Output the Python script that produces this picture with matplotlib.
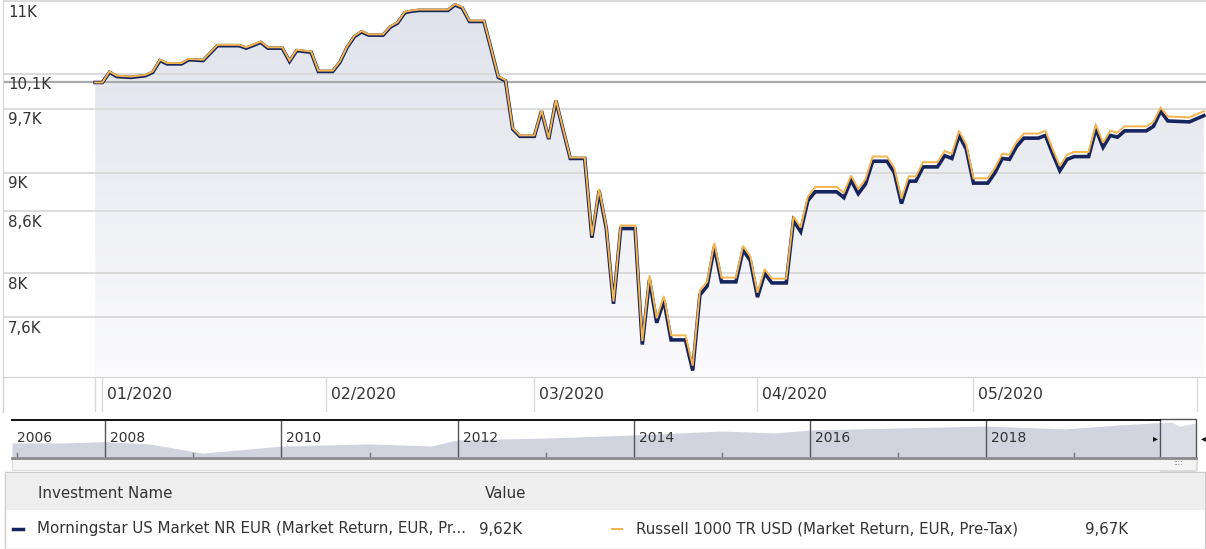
import numpy as np
import pandas as pd
import matplotlib
matplotlib.use("Agg")
import matplotlib.pyplot as plt
import matplotlib.dates as mdates
import matplotlib.transforms as mtransforms
from matplotlib.patches import Rectangle, Polygon
from matplotlib.ticker import NullLocator

plt.rcParams['font.family'] = ['DejaVu Sans']

W, H = 1206, 549

# growth of 10K, values in thousands
dates = ["2019-12-31", "2020-01-01", "2020-01-02", "2020-01-03", "2020-01-05", "2020-01-06",
         "2020-01-07", "2020-01-08", "2020-01-09", "2020-01-10", "2020-01-12", "2020-01-13",
         "2020-01-15", "2020-01-17", "2020-01-20", "2020-01-21", "2020-01-23", "2020-01-24",
         "2020-01-26", "2020-01-27", "2020-01-28", "2020-01-30", "2020-01-31", "2020-02-02",
         "2020-02-03", "2020-02-04", "2020-02-05", "2020-02-06", "2020-02-07", "2020-02-09",
         "2020-02-10", "2020-02-11", "2020-02-12", "2020-02-13", "2020-02-14", "2020-02-18",
         "2020-02-19", "2020-02-20", "2020-02-21", "2020-02-23", "2020-02-24", "2020-02-25",
         "2020-02-26", "2020-02-27", "2020-02-28", "2020-03-01", "2020-03-02", "2020-03-03",
         "2020-03-04", "2020-03-05", "2020-03-06", "2020-03-08", "2020-03-09", "2020-03-10",
         "2020-03-11", "2020-03-12", "2020-03-13", "2020-03-15", "2020-03-16", "2020-03-17",
         "2020-03-18", "2020-03-19", "2020-03-20", "2020-03-22", "2020-03-23", "2020-03-24",
         "2020-03-25", "2020-03-26", "2020-03-27", "2020-03-29", "2020-03-30", "2020-03-31",
         "2020-04-01", "2020-04-02", "2020-04-03", "2020-04-05", "2020-04-06", "2020-04-07",
         "2020-04-08", "2020-04-09", "2020-04-12", "2020-04-13", "2020-04-14", "2020-04-15",
         "2020-04-16", "2020-04-17", "2020-04-19", "2020-04-20", "2020-04-21", "2020-04-22",
         "2020-04-23", "2020-04-24", "2020-04-26", "2020-04-27", "2020-04-28", "2020-04-29",
         "2020-04-30", "2020-05-01", "2020-05-03", "2020-05-04", "2020-05-05", "2020-05-06",
         "2020-05-07", "2020-05-08", "2020-05-10", "2020-05-11", "2020-05-12", "2020-05-13",
         "2020-05-14", "2020-05-15", "2020-05-17", "2020-05-18", "2020-05-19", "2020-05-20",
         "2020-05-21", "2020-05-22", "2020-05-25", "2020-05-26", "2020-05-27", "2020-05-28",
         "2020-05-31", "2020-06-02"]

morningstar = [10.00, 10.00, 10.12, 10.07, 10.06, 10.07, 10.08, 10.12, 10.26, 10.22, 10.22, 10.27,
               10.26, 10.44, 10.44, 10.41, 10.48, 10.41, 10.41, 10.25, 10.38, 10.36, 10.13, 10.13,
               10.24, 10.42, 10.55, 10.61, 10.57, 10.57, 10.67, 10.72, 10.85, 10.87, 10.88, 10.88,
               10.95, 10.91, 10.74, 10.74, 10.40, 10.06, 10.02, 9.47, 9.39, 9.39, 9.67, 9.36,
               9.79, 9.46, 9.15, 9.15, 8.34, 8.81, 8.43, 7.72, 8.43, 8.43, 7.36, 7.94,
               7.55, 7.75, 7.40, 7.40, 7.14, 7.80, 7.88, 8.25, 7.92, 7.92, 8.22, 8.12,
               7.78, 8.00, 7.91, 7.91, 8.51, 8.40, 8.71, 8.80, 8.80, 8.74, 8.92, 8.78,
               8.88, 9.12, 9.12, 9.00, 8.68, 8.91, 8.91, 9.06, 9.06, 9.18, 9.15, 9.40,
               9.25, 8.89, 8.89, 9.00, 9.15, 9.14, 9.28, 9.37, 9.37, 9.40, 9.20, 9.02,
               9.14, 9.17, 9.17, 9.47, 9.27, 9.40, 9.38, 9.45, 9.45, 9.50, 9.67, 9.56,
               9.55, 9.62]

russell = [10.00, 10.00, 10.13, 10.08, 10.07, 10.08, 10.09, 10.13, 10.27, 10.23, 10.23, 10.28,
           10.27, 10.45, 10.45, 10.42, 10.49, 10.42, 10.42, 10.26, 10.39, 10.37, 10.14, 10.14,
           10.25, 10.43, 10.56, 10.62, 10.58, 10.58, 10.68, 10.73, 10.86, 10.88, 10.89, 10.89,
           10.96, 10.92, 10.75, 10.75, 10.41, 10.07, 10.03, 9.48, 9.40, 9.40, 9.68, 9.37,
           9.80, 9.47, 9.16, 9.16, 8.36, 8.83, 8.45, 7.74, 8.46, 8.46, 7.39, 7.98,
           7.59, 7.79, 7.44, 7.44, 7.18, 7.84, 7.92, 8.29, 7.96, 7.96, 8.26, 8.16,
           7.82, 8.04, 7.95, 7.95, 8.55, 8.44, 8.75, 8.85, 8.85, 8.79, 8.97, 8.83,
           8.93, 9.17, 9.17, 9.05, 8.73, 8.96, 8.96, 9.11, 9.11, 9.23, 9.20, 9.45,
           9.30, 8.94, 8.94, 9.05, 9.20, 9.19, 9.33, 9.42, 9.42, 9.45, 9.25, 9.07,
           9.19, 9.22, 9.22, 9.52, 9.32, 9.45, 9.43, 9.50, 9.50, 9.55, 9.71, 9.61,
           9.60, 9.67]

y_ticks = [11.0, 10.1, 9.7, 9.0, 8.6, 8.0, 7.6]
y_labels = ["11K", "10,1K", "9,7K", "9K", "8,6K", "8K", "7,6K"]
base_value = 10.0

month_ticks = ["2020-01-01", "2020-02-01", "2020-03-01", "2020-04-01", "2020-05-01", "2020-06-01"]
month_labels = ["01/2020", "02/2020", "03/2020", "04/2020", "05/2020", ""]

# long history shown in the navigator (decimal years, relative level)
nav_years = [2006.94, 2007.5, 2008.0, 2008.5, 2009.1, 2009.5, 2010.0, 2011.0, 2011.7, 2012.0,
             2013.0, 2014.0, 2015.0, 2015.6, 2016.0, 2017.0, 2018.0, 2018.9, 2019.5, 2020.1,
             2020.2, 2020.38]
nav_values = [8.0, 7.9, 8.6, 7.4, 2.6, 4.2, 6.3, 7.4, 6.3, 9.5,
              10.5, 12.1, 14.2, 13.2, 14.7, 15.8, 16.8, 15.3, 17.4, 18.9,
              16.8, 18.4]
nav_year_labels = [2006, 2008, 2010, 2012, 2014, 2016, 2018]

names = ["Morningstar US Market NR EUR (Market Return, EUR, Pr...",
         "Russell 1000 TR USD (Market Return, EUR, Pre-Tax)"]
last_values = ["9,62K", "9,67K"]

navy = "#17255f"
orange = "#f4b54e"
grid_c = "#d9d9d9"
text_c = "#333333"


def box(x0, y0, x1, y1):
    return [x0 / W, 1 - y1 / H, (x1 - x0) / W, (y1 - y0) / H]


fig = plt.figure(figsize=(W / 100, H / 100), dpi=100)
fig.patch.set_facecolor("white")

x = mdates.date2num(pd.to_datetime(dates))
jan1 = mdates.date2num(pd.Timestamp("2020-01-01"))
xlim = (jan1 - 13.8, jan1 + 153.3)

# ---- main chart
ax = fig.add_axes(box(3, 0, 1206, 377))
ax.set_yscale("log")
ax.set_xlim(*xlim)
ax.set_ylim(7.086, 11.013)
ax.yaxis.set_minor_locator(NullLocator())
ax.set_yticks(y_ticks)
ax.set_yticklabels([])
ax.tick_params(axis="both", length=0, labelbottom=False)
ax.set_xticks([])
for s in ["top", "right"]:
    ax.spines[s].set_visible(False)
ax.spines["left"].set_color("#d4d4d4")
ax.spines["bottom"].set_color("#cfcfcf")
ax.grid(axis="y", color=grid_c, lw=1.3)
ax.axhline(base_value, color="#a9a9a9", lw=1.6, zorder=1)

# gradient fill under the line
ylow = 7.0
verts = list(zip(x, morningstar)) + [(x[-1], ylow), (x[0], ylow)]
clip = Polygon(verts, closed=True, facecolor="none", edgecolor="none", transform=ax.transData)
ax.add_patch(clip)
grad = np.linspace(0, 1, 256).reshape(-1, 1)
top_c = np.array([0.878, 0.886, 0.918])
bot_c = np.array([0.985, 0.985, 0.992])
img = top_c * (1 - grad[..., None]) + bot_c * grad[..., None]
im = ax.imshow(img, extent=[0, 1, 0, 1], transform=ax.transAxes, aspect="auto", zorder=0.5,
               origin="upper")
im.set_clip_path(clip)

ax.plot(x, morningstar, color=navy, lw=2.6, zorder=3, solid_joinstyle="miter")
ax.plot(x, russell, color=orange, lw=1.4, zorder=4, solid_joinstyle="miter")

lab_tr = mtransforms.offset_copy(ax.get_yaxis_transform(), fig=fig, x=5, y=-11, units="dots")
for v, t in zip(y_ticks, y_labels):
    ax.text(0, v, t, transform=lab_tr, ha="left", va="center", fontsize=10.8, color=text_c)

# ---- month strip
axm = fig.add_axes(box(3, 377, 1206, 412))
axm.set_xlim(*xlim)
axm.set_ylim(0, 1)
axm.axis("off")
axm.axvline(x[0], color="#d9d9d9", lw=1)
for d, t in zip(month_ticks, month_labels):
    xv = mdates.date2num(pd.Timestamp(d))
    axm.axvline(xv, color="#d9d9d9", lw=1)
    axm.annotate(t, (xv, 0.5), xytext=(5, 0), textcoords="offset pixels",
                 ha="left", va="center", fontsize=11.3, color=text_c)
fig.add_artist(plt.Line2D([3 / W, 3 / W], [1 - 412 / H, 1 - 377 / H], color="#d4d4d4", lw=1))

# ---- navigator
axn = fig.add_axes(box(12, 420, 1196, 458))
axn.set_xlim(2006.94, 2020.384)
axn.set_ylim(0, 20)
axn.axis("off")
axn.fill_between(nav_years, nav_values, 0, color="#d1d3df", lw=0)
for yr in nav_year_labels:
    if yr > 2007:
        axn.axvline(yr, color="#555555", lw=1)
    axn.annotate(str(yr), (max(yr, 2006.94), 10.5), xytext=(5, 0), textcoords="offset pixels",
                 ha="left", va="center", fontsize=10, color=text_c)
for yr in range(2007, 2020, 2):
    axn.plot([yr, yr], [0, 2.6], color="#777777", lw=1)

fig.add_artist(plt.Line2D([12 / W, 1160 / W], [1 - 420 / H] * 2, color="#111111", lw=1.4))
fig.add_artist(plt.Line2D([12 / W, 1196 / W], [1 - 458 / H] * 2, color="#8c8c8c", lw=2))
fig.add_artist(Rectangle((1160 / W, 1 - 458 / H), 36 / W, 39 / H, transform=fig.transFigure,
                         facecolor="white", alpha=0.25, edgecolor="none"))
fig.add_artist(Rectangle((1160 / W, 1 - 470 / H), 36 / W, 51 / H, transform=fig.transFigure,
                         facecolor="none", edgecolor="#555555", lw=1))
fig.text(1155 / W, 1 - 438 / H, "\u25b8", fontsize=7, ha="center", va="center", color="#111111")
fig.text(1203 / W, 1 - 438 / H, "\u25c2", fontsize=7, ha="center", va="center", color="#111111")
fig.add_artist(Rectangle((12 / W, 1 - 470 / H), 1184 / W, 11 / H, transform=fig.transFigure,
                         facecolor="#f4f4f4", edgecolor="#dddddd", lw=0.8))
fig.text(1178 / W, 1 - 463 / H, "::::", fontsize=5, ha="center", va="center", color="#666666")

# ---- legend table
fig.add_artist(Rectangle((5 / W, 0), 1200 / W, 77 / H, transform=fig.transFigure,
                         facecolor="white", edgecolor="#cccccc", lw=1))
fig.add_artist(Rectangle((6 / W, 1 - 510 / H), 1199 / W, 37 / H, transform=fig.transFigure,
                         facecolor="#eeeeee", edgecolor="none"))
fig.text(38 / W, 1 - 494 / H, "Investment Name", fontsize=10.8, va="center", color=text_c)
fig.text(485 / W, 1 - 494 / H, "Value", fontsize=10.8, va="center", color=text_c)

row_y = 1 - 529 / H
fig.add_artist(plt.Line2D([13 / W, 23 / W], [row_y, row_y], color=navy, lw=2.5))
fig.text(37 / W, row_y, names[0], fontsize=10.8, va="center", color=text_c)
fig.text(479 / W, row_y, last_values[0], fontsize=10.8, va="center", color=text_c)
fig.add_artist(plt.Line2D([612 / W, 622 / W], [row_y, row_y], color=orange, lw=1.5))
fig.text(636 / W, row_y, names[1], fontsize=10.8, va="center", color=text_c)
fig.text(1085 / W, row_y, last_values[1], fontsize=10.8, va="center", color=text_c)

fig.savefig("out.png", dpi=100)
